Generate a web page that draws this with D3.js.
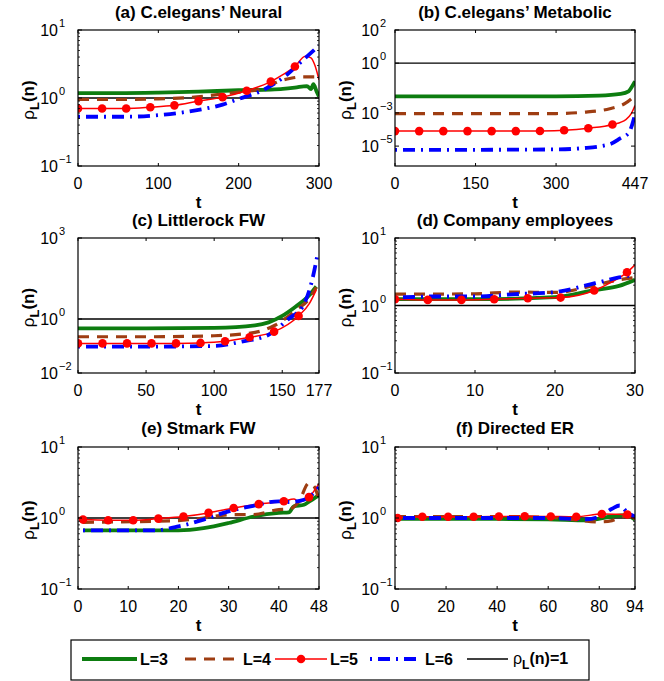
<!DOCTYPE html>
<html>
<head>
<meta charset="utf-8">
<script src="https://cdn.jsdelivr.net/npm/d3@7"></script>
<style>
  body { margin: 0; background: #fff; }
  svg { font-family: "Liberation Sans", Arial, Helvetica, sans-serif; }
</style>
</head>
<body>
<svg id="chart" width="664" height="681"></svg>
<script>
// ---- data: [t, rho_L(n)] ----
const titles = ["(a) C.elegans\u2019 Neural", "(b) C.elegans\u2019 Metabolic", "(c) Littlerock FW",
                "(d) Company employees", "(e) Stmark FW", "(f) Directed ER"];
const xMax = [300, 447, 177, 30, 48, 94];
const xTicks = [[0, 100, 200, 300], [0, 150, 300, 447], [0, 50, 100, 150, 177],
                [0, 10, 20, 30], [0, 10, 20, 30, 40, 48], [0, 20, 40, 60, 80, 94]];
const yDomains = [[0.1, 10], [Math.pow(10, -6.2), 100], [0.01, 1000], [0.1, 10], [0.1, 10], [0.1, 10]];
const yTicks = [[0.1, 1, 10], [1e-5, 1e-3, 1, 100], [0.01, 1, 1000], [0.1, 1, 10], [0.1, 1, 10], [0.1, 1, 10]];

const aL3 = [[0,1.18],[50,1.18],[100,1.2],[150,1.24],[200,1.3],[240,1.33],[255,1.36],[270,1.42],[285,1.5],[290,1.35],[293,1.6],[297,1.25],[300,1.05]];
const aL4 = [[0,0.95],[50,0.95],[100,0.97],[140,1.02],[168,1.1],[200,1.22],[235,1.42],[247,1.7],[265,1.95],[280,2.05],[300,2.05]];
const aL5 = [[0,0.7],[30,0.7],[60,0.7],[90,0.73],[120,0.78],[150,0.9],[180,1.03],[210,1.28],[240,1.74],[255,2.2],[270,2.9],[283,4.1],[290,3.9],[295,3.0],[300,1.85]];
const aL6 = [[0,0.53],[60,0.53],[100,0.56],[150,0.67],[180,0.8],[200,0.97],[230,1.3],[260,2.2],[280,3.6],[300,5.9]];
const aMarks = [0, 30, 60, 90, 120, 150, 180, 210, 240, 270];

const bL3 = [[0,0.01],[150,0.01],[300,0.01],[380,0.011],[420,0.014],[435,0.02],[440,0.033],[447,0.08]];
const bL4 = [[0,9e-4],[150,9e-4],[300,9.2e-4],[350,1.1e-3],[400,1.8e-3],[430,4e-3],[447,0.011]];
const bL5 = [[0,8e-5],[45,8e-5],[90,8e-5],[135,8e-5],[180,8e-5],[225,8e-5],[270,8.2e-5],[315,9e-5],[360,1.2e-4],[405,2e-4],[430,4e-4],[440,9e-4],[447,2.8e-3]];
const bL6 = [[0,6e-6],[150,6e-6],[300,6.3e-6],[350,7.5e-6],[400,1.3e-5],[420,3e-5],[435,6e-5],[447,8e-4]];
const bMarks = [0, 45, 90, 135, 180, 225, 270, 315, 360, 405];

const cL3 = [[0,0.45],[50,0.45],[100,0.47],[130,0.58],[140,0.75],[150,1.3],[160,2.9],[170,7.7],[175,16]];
const cL4 = [[0,0.22],[50,0.22],[100,0.24],[130,0.32],[145,0.6],[160,2.1],[170,5.8],[175,15]];
const cL5 = [[0,0.125],[18,0.125],[36,0.125],[54,0.125],[72,0.125],[90,0.13],[108,0.15],[126,0.21],[144,0.34],[162,1.3],[170,3.8],[175,12]];
const cL6 = [[0,0.095],[50,0.095],[100,0.1],[120,0.145],[140,0.26],[155,1.05],[165,2.9],[172,28],[176,256]];
const cMarks = [0, 18, 36, 54, 72, 90, 108, 126, 144, 162];

const dL3 = [[0,1.24],[10,1.24],[20,1.33],[25,1.7],[28,1.95],[30,2.4]];
const dL4 = [[0,1.47],[10,1.49],[15,1.58],[20,1.56],[25,2.0],[28,2.4],[30,2.6]];
const dL5 = [[0,1.24],[4.1,1.21],[8.3,1.21],[12.4,1.24],[16.6,1.28],[20.7,1.31],[24.9,1.67],[27,2.2],[29,3.1],[30,4.0]];
const dL6 = [[0,1.31],[5,1.36],[10,1.36],[15,1.47],[20,1.58],[25,2.14],[28,2.6],[30,2.85]];
const dMarks = [0, 4.1, 8.3, 12.4, 16.6, 20.7, 24.9, 29];

const eL3 = [[1,0.67],[20,0.67],[25,0.72],[30,0.85],[35,1.05],[40,1.18],[42,1.2],[43,1.46],[45,1.54],[46,1.7],[48,2.1]];
const eL4 = [[1,0.87],[20,0.92],[25,1.0],[30,1.11],[35,1.12],[40,1.31],[42,1.33],[44,1.71],[46,3.1],[47,2.8],[48,1.8]];
const eL5 = [[1,0.95],[6,0.93],[11,0.93],[16,0.98],[21,1.05],[26,1.18],[31,1.38],[36,1.57],[41,1.72],[43,1.85],[44,1.7],[46,1.97],[48,3.05]];
const eL6 = [[1,0.67],[15,0.67],[20,0.76],[25,0.95],[30,1.24],[35,1.49],[40,1.72],[42,1.68],[45,1.81],[48,2.7]];
const eMarks = [1, 6, 11, 16, 21, 26, 31, 36, 41, 46];

const fL3 = [[0,0.97],[40,0.97],[60,0.96],[75,0.93],[85,1.05],[90,1.1],[94,0.95]];
const fL4 = [[0,1.05],[40,1.05],[60,1.02],[70,0.95],[80,0.88],[85,0.92],[90,1.05],[94,1.0]];
const fL5 = [[1,1.0],[10.7,1.04],[20.8,1.04],[30.8,1.04],[40.7,1.05],[50.8,1.06],[61,1.05],[71,1.04],[81,1.14],[91,1.12],[94,0.95]];
const fL6 = [[0,1.0],[60,1.0],[75,0.96],[80,1.05],[85,1.35],[88,1.5],[91,1.2],[94,1.05]];
const fMarks = [1, 10.7, 20.8, 30.8, 40.7, 50.8, 61, 71, 81, 91];

const seriesByPanel = [
  [aL3, aL4, aL5, aL6], [bL3, bL4, bL5, bL6], [cL3, cL4, cL5, cL6],
  [dL3, dL4, dL5, dL6], [eL3, eL4, eL5, eL6], [fL3, fL4, fL5, fL6]
];
const marksByPanel = [aMarks, bMarks, cMarks, dMarks, eMarks, fMarks];

const legendLabels = ["L=3", "L=4", "L=5", "L=6"];

// ---- styles ----
const styles = [
  {color: "#0d7d10", width: 3.8, dash: null},
  {color: "#9e3d12", width: 3.2, dash: "11,8"},
  {color: "#ff0000", width: 1.5, dash: null},
  {color: "#0000ff", width: 3.8, dash: "2,6,12,6"}
];

const svg = d3.select("#chart");
const colLeft = [78, 395], colRight = [319, 635];
const rowTop = [30, 238, 447], rowBottom = [166, 373, 589];
const titleY = [12, 220, 428];
const baseGap = [20, 16];

function expOf(v) {
  const e = Math.round(Math.log10(v));
  return e < 0 ? "\u2212" + (-e) : String(e);
}

titles.forEach(function(title, i) {
  const col = i % 2, row = Math.floor(i / 2);
  const x0 = colLeft[col], x1 = colRight[col], y0 = rowTop[row], y1 = rowBottom[row];
  const w = x1 - x0, h = y1 - y0;

  const x = d3.scaleLinear().domain([0, xMax[i]]).range([0, w]);
  const y = d3.scaleLog().domain(yDomains[i]).range([h, 0]);

  const g = svg.append("g").attr("transform", `translate(${x0},${y0})`);

  g.append("clipPath").attr("id", "clip" + i)
    .append("rect").attr("width", w).attr("height", h);

  // title
  g.append("text")
    .attr("x", w / 2).attr("y", titleY[row] - y0 + 6)
    .attr("text-anchor", "middle")
    .style("font-size", "17px").style("font-weight", "bold")
    .text(title);

  // reference line rho = 1
  g.append("line")
    .attr("x1", 0).attr("x2", w)
    .attr("y1", y(1)).attr("y2", y(1))
    .attr("stroke", "#000").attr("stroke-width", 1.3);

  // series
  const line = d3.line()
    .x(d => x(d[0]))
    .y(d => y(d[1]))
    .curve(d3.curveMonotoneX);

  const plot = g.append("g").attr("clip-path", `url(#clip${i})`);
  seriesByPanel[i].forEach(function(s, k) {
    plot.append("path")
      .datum(s)
      .attr("fill", "none")
      .attr("stroke", styles[k].color)
      .attr("stroke-width", styles[k].width)
      .attr("stroke-dasharray", styles[k].dash)
      .attr("d", line);
  });
  const red = seriesByPanel[i][2];
  const markPts = red.filter(d => marksByPanel[i].indexOf(d[0]) >= 0);
  plot.selectAll("circle.mark")
    .data(markPts)
    .enter().append("circle")
      .attr("class", "mark")
      .attr("cx", d => x(d[0]))
      .attr("cy", d => y(d[1]))
      .attr("r", 4.3)
      .attr("fill", "#ff0000");

  // frame
  g.append("rect").attr("width", w).attr("height", h)
    .attr("fill", "none").attr("stroke", "#000").attr("stroke-width", 1.2);

  // x ticks (inside, top and bottom)
  xTicks[i].forEach(function(t) {
    g.append("line").attr("x1", x(t)).attr("x2", x(t)).attr("y1", h).attr("y2", h - 3)
      .attr("stroke", "#000");
    g.append("line").attr("x1", x(t)).attr("x2", x(t)).attr("y1", 0).attr("y2", 3)
      .attr("stroke", "#000");
    g.append("text")
      .attr("x", x(t)).attr("y", h + 23)
      .attr("text-anchor", "middle")
      .style("font-size", "16px")
      .text(t);
  });

  // y ticks
  const [lo, hi] = yDomains[i];
  const decades = Math.log10(hi) - Math.log10(lo);
  const minor = [];
  if (decades <= 3) {
    for (let e = Math.floor(Math.log10(lo)); e < Math.ceil(Math.log10(hi)); e++) {
      for (let m = 2; m <= 9; m++) minor.push(m * Math.pow(10, e));
    }
  }
  minor.forEach(function(v) {
    g.append("line").attr("x1", 0).attr("x2", 2).attr("y1", y(v)).attr("y2", y(v)).attr("stroke", "#000").attr("stroke-width", 0.8);
    g.append("line").attr("x1", w).attr("x2", w - 2).attr("y1", y(v)).attr("y2", y(v)).attr("stroke", "#000").attr("stroke-width", 0.8);
  });
  yTicks[i].forEach(function(v) {
    g.append("line").attr("x1", 0).attr("x2", 4).attr("y1", y(v)).attr("y2", y(v)).attr("stroke", "#000");
    g.append("line").attr("x1", w).attr("x2", w - 4).attr("y1", y(v)).attr("y2", y(v)).attr("stroke", "#000");
    g.append("text")
      .attr("x", -baseGap[col]).attr("y", y(v) + 6)
      .attr("text-anchor", "end")
      .style("font-size", "16px")
      .text("10");
    g.append("text")
      .attr("x", -baseGap[col] + 1).attr("y", y(v) - 3)
      .style("font-size", "11px")
      .text(expOf(v));
  });

  // x label
  g.append("text")
    .attr("x", w / 2).attr("y", h + 42)
    .attr("text-anchor", "middle")
    .style("font-size", "17px").style("font-weight", "bold")
    .text("t");

  // y label
  const yl = g.append("text")
    .attr("transform", `translate(-44,${h / 2 + 2}) rotate(-90)`)
    .attr("text-anchor", "middle")
    .style("font-size", "17px");
  yl.append("tspan").text("\u03c1");
  yl.append("tspan").attr("dy", 5).style("font-size", "13px").style("font-weight", "bold").text("L");
  yl.append("tspan").attr("dy", -5).style("font-weight", "bold").text("(n)");
});

// ---- legend ----
const lg = svg.append("g");
lg.append("rect").attr("x", 71).attr("y", 640).attr("width", 518).attr("height", 40)
  .attr("fill", "#fff").attr("stroke", "#000").attr("stroke-width", 1.2);

const legendX = [[82, 137], [185, 240], [275, 327], [370, 422]];
legendLabels.forEach(function(lab, k) {
  const [a, b] = legendX[k];
  lg.append("line").attr("x1", a).attr("x2", b).attr("y1", 659).attr("y2", 659)
    .attr("stroke", styles[k].color).attr("stroke-width", styles[k].width)
    .attr("stroke-dasharray", styles[k].dash);
  if (k === 2) {
    lg.append("circle").attr("cx", (a + b) / 2).attr("cy", 659).attr("r", 4.3).attr("fill", "#ff0000");
  }
  lg.append("text").attr("x", b + 3).attr("y", 665)
    .style("font-size", "16px").style("font-weight", "bold").text(lab);
});
lg.append("line").attr("x1", 467).attr("x2", 508).attr("y1", 659).attr("y2", 659)
  .attr("stroke", "#000").attr("stroke-width", 1.3);
const lt = lg.append("text").attr("x", 513).attr("y", 664).style("font-size", "16px");
lt.append("tspan").text("\u03c1");
lt.append("tspan").attr("dy", 5).style("font-size", "12px").style("font-weight", "bold").text("L");
lt.append("tspan").attr("dy", -5).style("font-weight", "bold").text("(n)=1");
</script>
</body>
</html>
